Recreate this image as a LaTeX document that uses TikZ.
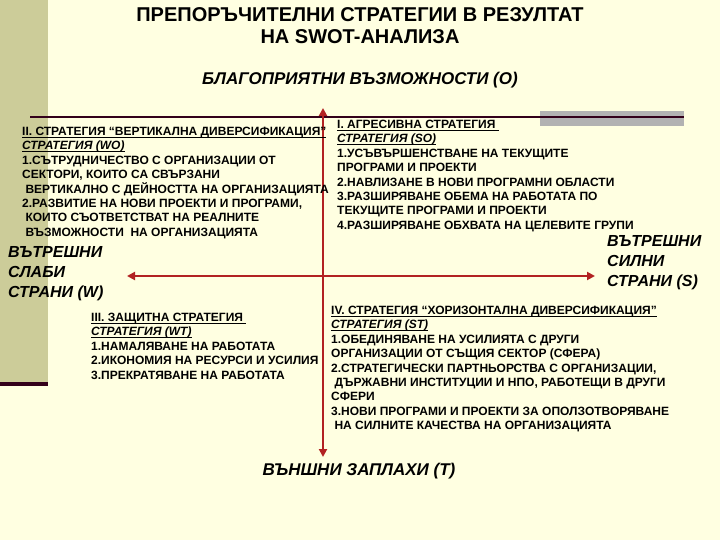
\documentclass[tikz,border=0pt]{standalone}
\usepackage{fontspec}
\setmainfont{Liberation Sans}
\usepackage{tikz}
\usetikzlibrary{arrows.meta}
\definecolor{swotcream}{HTML}{FFFFE1}
\definecolor{swotkhaki}{HTML}{CCCC99}
\definecolor{swotplum}{HTML}{33001A}
\definecolor{swotgray}{HTML}{B2B2B2}
\definecolor{swotred}{HTML}{B22222}
% close underline for the quadrant headings
\newsavebox{\swotulbox}
\newcommand{\swotul}[1]{\sbox{\swotulbox}{#1}\rlap{\rule[-1.8pt]{\wd\swotulbox}{0.7pt}}\usebox{\swotulbox}}

\begin{document}
\begin{tikzpicture}[x=1pt, y=-1pt, font=\bfseries]

% Background and frame of the slide
\fill[swotcream] (0,0) rectangle (720,540);
\useasboundingbox (0,0) rectangle (720,540);
\fill[swotkhaki] (0,0) rectangle (48,382);
\fill[swotplum] (0,382) rectangle (48,386);
\fill[swotgray] (540,111) rectangle (684,126);
\draw[swotplum, line width=2pt] (30,117.5) -- (684,117.5);

% Styles
\tikzset{
  quad/.style={align=left, inner sep=0pt, font=\fontsize{12}{14.4}\selectfont\bfseries},
  side/.style={align=left, inner sep=0pt, font=\fontsize{16}{20}\selectfont\bfseries\itshape},
  axlabel/.style={font=\fontsize{17}{18}\selectfont\bfseries\itshape},
  axis/.style={swotred, line width=2pt, -{Triangle[length=8pt, width=8pt]}}
}

% Title
\node[align=center, font=\fontsize{20}{22}\selectfont\bfseries] (title) at (360,26)
  {ПРЕПОРЪЧИТЕЛНИ СТРАТЕГИИ В РЕЗУЛТАТ\\НА SWOT-АНАЛИЗА};

% Axes
\coordinate (c) at (323,276);
\coordinate (up) at (323,108);
\coordinate (down) at (323,457);
\coordinate (left) at (127,276);
\coordinate (right) at (595,276);
\foreach \e in {up, down, left, right} {
  \draw[axis] (c) -- (\e);
}

% Axis labels
\node[axlabel] (opp) at (360,80) {БЛАГОПРИЯТНИ ВЪЗМОЖНОСТИ (О)};
\node[axlabel] (thr) at (359,471) {ВЪНШНИ ЗАПЛАХИ (Т)};
\node[side, anchor=north west] (weak) at (8,246) {ВЪТРЕШНИ\\СЛАБИ\\СТРАНИ (W)};
\node[side, anchor=north west] (strong) at (607,235) {ВЪТРЕШНИ\\СИЛНИ\\СТРАНИ (S)};

% -- Quadrants --

% II. WO
\node[quad, anchor=north west] (wo) at (22,127) {
  \swotul{II. СТРАТЕГИЯ “ВЕРТИКАЛНА ДИВЕРСИФИКАЦИЯ”}\\
  \swotul{\itshape СТРАТЕГИЯ (WO)}\\
  1.СЪТРУДНИЧЕСТВО С ОРГАНИЗАЦИИ ОТ\\
  СЕКТОРИ, КОИТО СА СВЪРЗАНИ\\
  \ ВЕРТИКАЛНО С ДЕЙНОСТТА НА ОРГАНИЗАЦИЯТА\\
  2.РАЗВИТИЕ НА НОВИ ПРОЕКТИ И ПРОГРАМИ,\\
  \ КОИТО СЪОТВЕТСТВАТ НА РЕАЛНИТЕ\\
  \ ВЪЗМОЖНОСТИ\ \ НА ОРГАНИЗАЦИЯТА
};

% I. SO
\node[quad, anchor=north west] (so) at (337,120) {
  \swotul{I. АГРЕСИВНА СТРАТЕГИЯ\ }\\
  \swotul{\itshape СТРАТЕГИЯ (SO)}\\
  1.УСЪВЪРШЕНСТВАНЕ НА ТЕКУЩИТЕ\\
  ПРОГРАМИ И ПРОЕКТИ\\
  2.НАВЛИЗАНЕ В НОВИ ПРОГРАМНИ ОБЛАСТИ\\
  3.РАЗШИРЯВАНЕ ОБЕМА НА РАБОТАТА ПО\\
  ТЕКУЩИТЕ ПРОГРАМИ И ПРОЕКТИ\\
  4.РАЗШИРЯВАНЕ ОБХВАТА НА ЦЕЛЕВИТЕ ГРУПИ
};

% III. WT
\node[quad, anchor=north west] (wt) at (91,313) {
  \swotul{III. ЗАЩИТНА СТРАТЕГИЯ\ }\\
  \swotul{\itshape СТРАТЕГИЯ (WT)}\\
  1.НАМАЛЯВАНЕ НА РАБОТАТА\\
  2.ИКОНОМИЯ НА РЕСУРСИ И УСИЛИЯ\\
  3.ПРЕКРАТЯВАНЕ НА РАБОТАТА
};

% IV. ST
\node[quad, anchor=north west] (st) at (331,306) {
  \swotul{IV. СТРАТЕГИЯ “ХОРИЗОНТАЛНА ДИВЕРСИФИКАЦИЯ”}\\
  \swotul{\itshape СТРАТЕГИЯ (ST)}\\
  1.ОБЕДИНЯВАНЕ НА УСИЛИЯТА С ДРУГИ\\
  ОРГАНИЗАЦИИ ОТ СЪЩИЯ СЕКТОР (СФЕРА)\\
  2.СТРАТЕГИЧЕСКИ ПАРТНЬОРСТВА С ОРГАНИЗАЦИИ,\\
  \ ДЪРЖАВНИ ИНСТИТУЦИИ И НПО, РАБОТЕЩИ В ДРУГИ\\
  СФЕРИ\\
  3.НОВИ ПРОГРАМИ И ПРОЕКТИ ЗА ОПОЛЗОТВОРЯВАНЕ\\
  \ НА СИЛНИТЕ КАЧЕСТВА НА ОРГАНИЗАЦИЯТА
};

\end{tikzpicture}
\end{document}
